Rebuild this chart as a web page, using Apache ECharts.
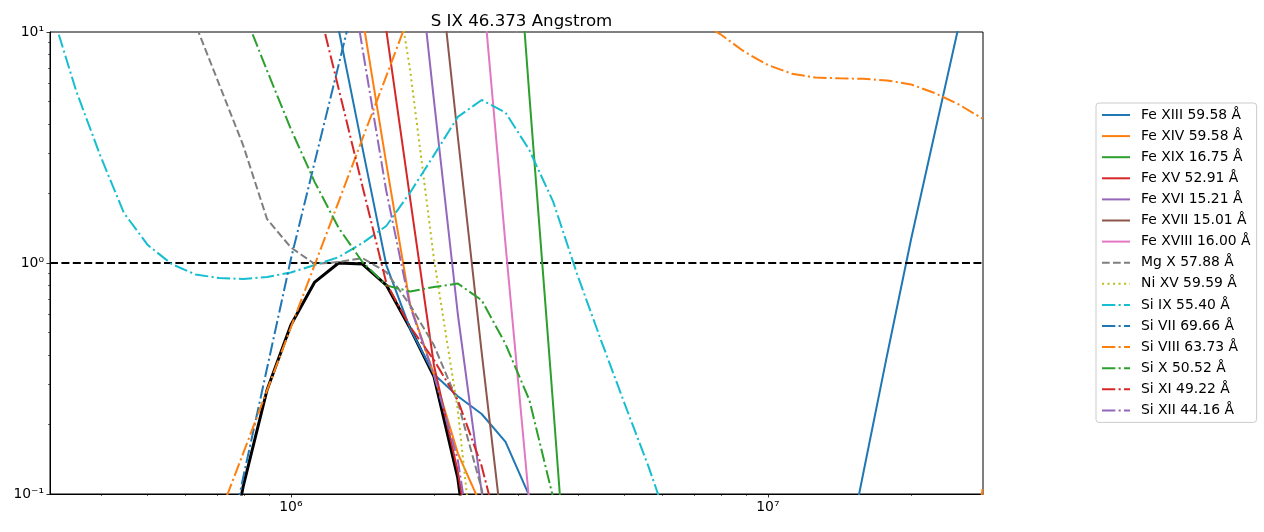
<!DOCTYPE html>
<html><head><meta charset="utf-8">
<script src="https://cdn.jsdelivr.net/npm/echarts@6/dist/echarts.min.js"></script>
<style>html,body{margin:0;padding:0;background:#fff}#c{width:1264px;height:532px}</style>
</head><body><div id="c"></div>
<script>
const N = null;
// log10 temperature grid
const logT = [5.5,5.55,5.6,5.65,5.7,5.75,5.8,5.85,5.9,5.95,
              6.0,6.05,6.1,6.15,6.2,6.25,6.3,6.35,6.4,6.45,
              6.5,6.55,6.6,6.65,6.7,6.75,6.8,6.85,6.9,6.95,
              7.0,7.05,7.1,7.15,7.2,7.25,7.3,7.35,7.4,7.45];

const names = ['Fe XIII 59.58 Å','Fe XIV 59.58 Å','Fe XIX 16.75 Å','Fe XV 52.91 Å','Fe XVI 15.21 Å',
  'Fe XVII 15.01 Å','Fe XVIII 16.00 Å','Mg X 57.88 Å','Ni XV 59.59 Å','Si IX 55.40 Å',
  'Si VII 69.66 Å','Si VIII 63.73 Å','Si X 50.52 Å','Si XI 49.22 Å','Si XII 44.16 Å'];

const feXIII = [N,N,N,N,N,N,N,N,N,N, N,40,10.3,3.15,0.98,0.52,0.33,0.265,0.222,0.168,
                0.098,0.03,N,N,N,N,N,N,N,N, N,N,N,0.0376,0.123,0.40,1.26,3.66,10.6,30];
const feXIV  = [N,N,N,N,N,N,N,N,N,N, N,N,45,11.6,2.7,0.66,0.33,0.15,0.088,0.03,
                N,N,N,N,N,N,N,N,N,N, N,N,N,N,N,N,N,N,0.02,0.105];
const feXIX  = [N,N,N,N,N,N,N,N,N,N, N,N,N,N,N,N,N,N,N,130,
                5.3,0.24,0.01,N,N,N,N,N,N,N, N,N,N,N,N,N,N,N,N,N];
const feXV   = [N,N,N,N,N,N,N,N,N,N, N,N,N,60,10.2,1.9,0.36,0.125,0.03,N,
                N,N,N,N,N,N,N,N,N,N, N,N,N,N,N,N,N,N,N,N];
const feXVI  = [N,N,N,N,N,N,N,N,N,N, N,N,N,N,N,45,5.05,0.6,0.102,0.015,
                N,N,N,N,N,N,N,N,N,N, N,N,N,N,N,N,N,N,N,N];
const feXVII = [N,N,N,N,N,N,N,N,N,N, N,N,N,N,N,N,32,3.52,0.41,0.053,
                N,N,N,N,N,N,N,N,N,N, N,N,N,N,N,N,N,N,N,N];
const feXVIII= [N,N,N,N,N,N,N,N,N,N, N,N,N,N,N,N,N,N,17.7,1.2,
                0.091,0.006,N,N,N,N,N,N,N,N, N,N,N,N,N,N,N,N,N,N];
const mgX    = [N,N,N,N,N,17,10.8,5.91,3.23,1.55, 1.167,0.99,1.01,1.05,0.914,0.658,0.44,0.25,0.105,0.03,
                N,N,N,N,N,N,N,N,N,N, N,N,N,N,N,N,N,N,N,N];
const niXV   = [N,N,N,N,N,N,N,N,N,N, N,N,N,N,30,6.84,1.04,0.231,0.025,N,
                N,N,N,N,N,N,N,N,N,N, N,N,N,N,N,N,N,N,N,N];
const siIX   = [12,5.55,2.93,1.646,1.196,0.99,0.892,0.861,0.853,0.87,
                0.91,0.98,1.06,1.22,1.446,2.02,2.93,4.29,5.08,4.48,
                3.08,1.84,0.896,0.464,0.245,0.131,0.066,N,N,N, N,N,N,N,N,N,N,N,N,N];
const siVII  = [N,N,N,N,N,N,N,0.0376,0.118,0.35, 1.04,2.74,7.19,19,N,N,N,N,N,N,
                N,N,N,N,N,N,N,N,N,N, N,N,N,N,N,N,N,N,N,N];
const siVIII = [N,N,N,N,N,N,0.043,0.0805,0.15,0.281, 0.526,0.983,1.84,3.45,6.44,12.1,N,N,N,N,
                N,N,N,N,N,N,N,11.3,9.8,8.23, 7.2,6.6,6.35,6.3,6.27,6.17,5.93,5.44,4.86,4.22];
const siX    = [N,N,N,N,N,N,N,22,12.4,6.81, 3.8,2.24,1.42,1.01,0.80,0.753,0.787,0.815,0.69,0.446,
                0.255,0.096,0.02,N,N,N,N,N,N,N, N,N,N,N,N,N,N,N,N,N];
const siXI   = [N,N,N,N,N,N,N,N,N,N, N,15,5.7,2.15,0.82,0.53,0.38,0.255,0.132,0.052,
                N,N,N,N,N,N,N,N,N,N, N,N,N,N,N,N,N,N,N,N];
const siXII  = [N,N,N,N,N,N,N,N,N,N, N,N,37,8.5,2.05,0.65,0.327,0.14,0.03,N,
                N,N,N,N,N,N,N,N,N,N, N,N,N,N,N,N,N,N,N,N];
const blackCurve = [N,N,N,N,N,N,N,0.03,0.108,0.282, 0.539,0.827,1.0,0.99,0.803,0.522,0.322,0.117,0.02,N,
                N,N,N,N,N,N,N,N,N,N, N,N,N,N,N,N,N,N,N,N];
const refLevel = 1;

const xMajorTicks = [1e6, 1e7];
const xMinorTicks = [4e5,5e5,6e5,7e5,8e5,9e5,2e6,3e6,4e6,5e6,6e6,7e6,8e6,9e6,2e7];
const yMajorTicks = [0.1, 1, 10];
const yMinorTicks = [0.2,0.3,0.4,0.5,0.6,0.7,0.8,0.9,2,3,4,5,6,7,8,9];

const seriesValues = [feXIII,feXIV,feXIX,feXV,feXVI,feXVII,feXVIII,mgX,niXV,siIX,siVII,siVIII,siX,siXI,siXII];
const colors = ['#1f77b4','#ff7f0e','#2ca02c','#d62728','#9467bd','#8c564b','#e377c2','#7f7f7f','#bcbd22','#17becf',
                '#1f77b4','#ff7f0e','#2ca02c','#d62728','#9467bd'];
const DASHDOT = [13.3,3.3,2.1,3.3], DASHED = [7.7,3.3], DOTTED = [2.1,3.4];
const styles = ['solid','solid','solid','solid','solid','solid','solid',DASHED,DOTTED,DASHDOT,DASHDOT,DASHDOT,DASHDOT,DASHDOT,DASHDOT];

const xMin = Math.pow(10, 5.495), xMax = Math.pow(10, 7.451);
const toPairs = arr => logT.map((t, i) => [Math.pow(10, t), arr[i]]);

const supMap = {'-':'⁻','0':'⁰','1':'¹','2':'²','3':'³','4':'⁴','5':'⁵','6':'⁶','7':'⁷','8':'⁸','9':'⁹'};
const powLabel = v => '10' + String(Math.round(Math.log10(v))).split('').map(c => supMap[c]).join('');

const FONT = 'DejaVu Sans';
const series = [{
  name: 'envelope', type: 'line', data: toPairs(blackCurve), symbol: 'none', z: 2,
  lineStyle: {color: '#000', width: 3}, silent: true
}];
seriesValues.forEach((arr, i) => {
  series.push({
    name: names[i], type: 'line', data: toPairs(arr), symbol: 'none', z: 3 + i,
    color: colors[i], lineStyle: {color: colors[i], width: 2, type: styles[i], cap: 'butt'}
  });
});
series.push({
  name: 'ref', type: 'line', data: [], z: 30, silent: true,
  markLine: {symbol: 'none', silent: true, label: {show: false},
    lineStyle: {color: '#000', width: 2.2, type: [8, 3.4]}, emphasis: {disabled: true},
    data: [{yAxis: refLevel}]}
});

const axisCommon = {color: '#000', fontFamily: FONT, fontSize: 13.9};
const chart = echarts.init(document.getElementById('c'), null, {renderer: 'canvas'});
chart.setOption({
  animation: false,
  backgroundColor: '#fff',
  title: {text: 'S IX 46.373 Angstrom', left: 516.5, top: 8, textAlign: 'center',
    textStyle: {fontFamily: FONT, fontSize: 16.67, fontWeight: 'normal', color: '#000'}},
  grid: {left: 50, top: 32, right: 281, bottom: 38, show: true, borderColor: '#000', borderWidth: 1, backgroundColor: 'transparent'},
  legend: {
    data: names, orient: 'vertical', left: 1096, top: 103,
    itemWidth: 28, itemHeight: 14, itemGap: 7.1,
    padding: [5, 6, 5, 5], borderColor: '#cccccc', borderWidth: 1, borderRadius: 3,
    backgroundColor: 'rgba(255,255,255,0.8)', selectedMode: false,
    itemStyle: {opacity: 0, color: 'rgba(0,0,0,0)', borderWidth: 0, borderColor: 'rgba(0,0,0,0)'},
    textStyle: {fontFamily: FONT, fontSize: 13.9, color: '#000', padding: [0, 0, 0, 6]}
  },
  xAxis: [{
    type: 'log', min: xMin, max: xMax, position: 'bottom',
    axisLine: {show: true, lineStyle: {color: '#000', width: 1}},
    axisTick: {show: true, length: 3.5, lineStyle: {color: '#000', width: 0.8}, customValues: xMajorTicks},
    axisLabel: Object.assign({show: true, margin: 6, customValues: xMajorTicks, formatter: powLabel}, axisCommon),
    splitLine: {show: false}, minorTick: {show: false}
  }, {
    type: 'log', min: xMin, max: xMax, position: 'bottom',
    axisLine: {show: false},
    axisTick: {show: true, length: 2, lineStyle: {color: '#000', width: 0.6}, customValues: xMinorTicks},
    axisLabel: {show: false}, splitLine: {show: false}
  }],
  yAxis: [{
    type: 'log', min: 0.1, max: 10, position: 'left',
    axisLine: {show: true, lineStyle: {color: '#000', width: 1}},
    axisTick: {show: true, length: 3.5, lineStyle: {color: '#000', width: 0.8}, customValues: yMajorTicks},
    axisLabel: Object.assign({show: true, margin: 6, customValues: yMajorTicks, formatter: powLabel}, axisCommon),
    splitLine: {show: false}
  }, {
    type: 'log', min: 0.1, max: 10, position: 'left',
    axisLine: {show: false},
    axisTick: {show: true, length: 2, lineStyle: {color: '#000', width: 0.6}, customValues: yMinorTicks},
    axisLabel: {show: false}, splitLine: {show: false}
  }],
  series: series
});
</script></body></html>
